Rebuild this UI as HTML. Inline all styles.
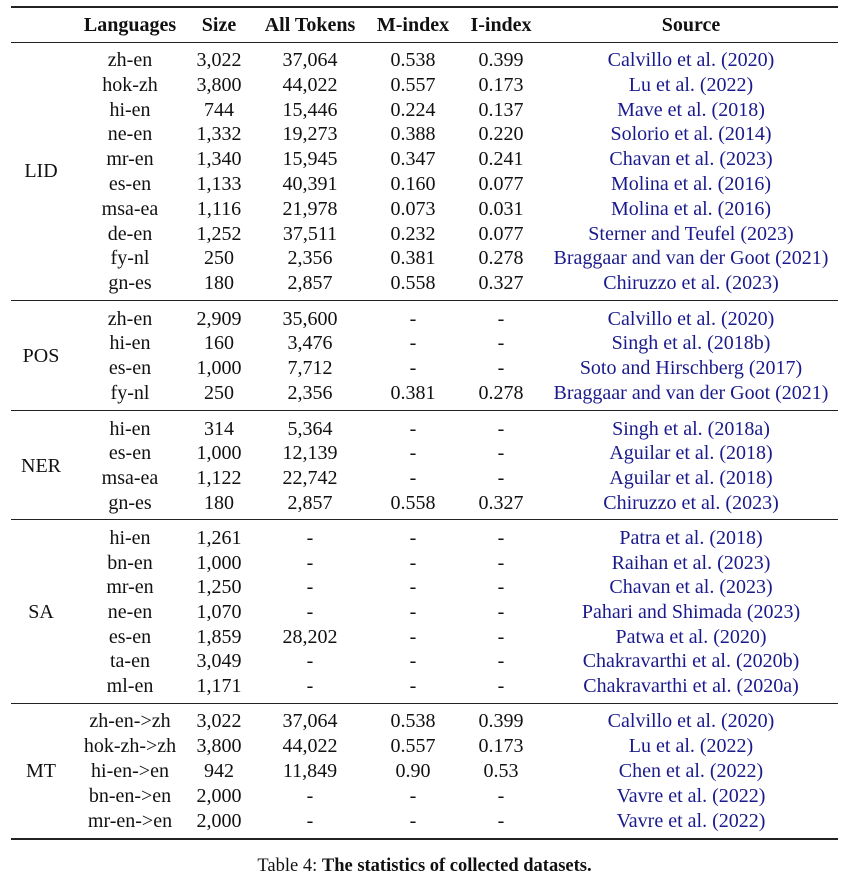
<!DOCTYPE html>
<html><head><meta charset="utf-8"><style>
body{margin:0;width:849px;height:880px;background:#fff;position:relative;font-family:"Liberation Serif",serif;font-size:20px;color:#111;overflow:hidden}
.r{position:absolute;left:0;width:849px;height:22px;line-height:22px}
.r span{position:absolute;text-align:center;white-space:nowrap}
.a{left:80px;width:100px}.b{left:180px;width:78px}.c{left:260px;width:100px}.d{left:363px;width:100px}.e{left:461px;width:80px}.f{left:545px;width:292px;color:#1a1a8c}
.g{left:11px;width:60px}
.h span{font-weight:bold}
.h .f{color:#111}
.ln{position:absolute;left:11px;width:827px;background:#222}
.cap{position:absolute;top:856px;left:0;width:849px;text-align:center;font-size:18.5px}
</style></head><body>
<div class="ln" style="top:6px;height:2px"></div>
<div class="r h" style="top:14px"><span class="a">Languages</span><span class="b">Size</span><span class="c">All Tokens</span><span class="d">M-index</span><span class="e">I-index</span><span class="f">Source</span></div>
<div class="ln" style="top:42px;height:1px"></div>

<div class="r" style="top:49px"><span class="a">zh-en</span><span class="b">3,022</span><span class="c">37,064</span><span class="d">0.538</span><span class="e">0.399</span><span class="f">Calvillo et al. (2020)</span></div>
<div class="r" style="top:74px"><span class="a">hok-zh</span><span class="b">3,800</span><span class="c">44,022</span><span class="d">0.557</span><span class="e">0.173</span><span class="f">Lu et al. (2022)</span></div>
<div class="r" style="top:99px"><span class="a">hi-en</span><span class="b">744</span><span class="c">15,446</span><span class="d">0.224</span><span class="e">0.137</span><span class="f">Mave et al. (2018)</span></div>
<div class="r" style="top:123px"><span class="a">ne-en</span><span class="b">1,332</span><span class="c">19,273</span><span class="d">0.388</span><span class="e">0.220</span><span class="f">Solorio et al. (2014)</span></div>
<div class="r" style="top:148px"><span class="a">mr-en</span><span class="b">1,340</span><span class="c">15,945</span><span class="d">0.347</span><span class="e">0.241</span><span class="f">Chavan et al. (2023)</span></div>
<div class="r" style="top:160px"><span class="g">LID</span></div>
<div class="r" style="top:173px"><span class="a">es-en</span><span class="b">1,133</span><span class="c">40,391</span><span class="d">0.160</span><span class="e">0.077</span><span class="f">Molina et al. (2016)</span></div>
<div class="r" style="top:198px"><span class="a">msa-ea</span><span class="b">1,116</span><span class="c">21,978</span><span class="d">0.073</span><span class="e">0.031</span><span class="f">Molina et al. (2016)</span></div>
<div class="r" style="top:223px"><span class="a">de-en</span><span class="b">1,252</span><span class="c">37,511</span><span class="d">0.232</span><span class="e">0.077</span><span class="f">Sterner and Teufel (2023)</span></div>
<div class="r" style="top:247px"><span class="a">fy-nl</span><span class="b">250</span><span class="c">2,356</span><span class="d">0.381</span><span class="e">0.278</span><span class="f">Braggaar and van der Goot (2021)</span></div>
<div class="r" style="top:272px"><span class="a">gn-es</span><span class="b">180</span><span class="c">2,857</span><span class="d">0.558</span><span class="e">0.327</span><span class="f">Chiruzzo et al. (2023)</span></div>
<div class="ln" style="top:300px;height:1px"></div>

<div class="r" style="top:308px"><span class="a">zh-en</span><span class="b">2,909</span><span class="c">35,600</span><span class="d">-</span><span class="e">-</span><span class="f">Calvillo et al. (2020)</span></div>
<div class="r" style="top:332px"><span class="a">hi-en</span><span class="b">160</span><span class="c">3,476</span><span class="d">-</span><span class="e">-</span><span class="f">Singh et al. (2018b)</span></div>
<div class="r" style="top:345px"><span class="g">POS</span></div>
<div class="r" style="top:357px"><span class="a">es-en</span><span class="b">1,000</span><span class="c">7,712</span><span class="d">-</span><span class="e">-</span><span class="f">Soto and Hirschberg (2017)</span></div>
<div class="r" style="top:382px"><span class="a">fy-nl</span><span class="b">250</span><span class="c">2,356</span><span class="d">0.381</span><span class="e">0.278</span><span class="f">Braggaar and van der Goot (2021)</span></div>
<div class="ln" style="top:410px;height:1px"></div>

<div class="r" style="top:418px"><span class="a">hi-en</span><span class="b">314</span><span class="c">5,364</span><span class="d">-</span><span class="e">-</span><span class="f">Singh et al. (2018a)</span></div>
<div class="r" style="top:442px"><span class="a">es-en</span><span class="b">1,000</span><span class="c">12,139</span><span class="d">-</span><span class="e">-</span><span class="f">Aguilar et al. (2018)</span></div>
<div class="r" style="top:455px"><span class="g">NER</span></div>
<div class="r" style="top:467px"><span class="a">msa-ea</span><span class="b">1,122</span><span class="c">22,742</span><span class="d">-</span><span class="e">-</span><span class="f">Aguilar et al. (2018)</span></div>
<div class="r" style="top:492px"><span class="a">gn-es</span><span class="b">180</span><span class="c">2,857</span><span class="d">0.558</span><span class="e">0.327</span><span class="f">Chiruzzo et al. (2023)</span></div>
<div class="ln" style="top:519px;height:1px"></div>

<div class="r" style="top:527px"><span class="a">hi-en</span><span class="b">1,261</span><span class="c">-</span><span class="d">-</span><span class="e">-</span><span class="f">Patra et al. (2018)</span></div>
<div class="r" style="top:552px"><span class="a">bn-en</span><span class="b">1,000</span><span class="c">-</span><span class="d">-</span><span class="e">-</span><span class="f">Raihan et al. (2023)</span></div>
<div class="r" style="top:576px"><span class="a">mr-en</span><span class="b">1,250</span><span class="c">-</span><span class="d">-</span><span class="e">-</span><span class="f">Chavan et al. (2023)</span></div>
<div class="r" style="top:601px"><span class="a">ne-en</span><span class="b">1,070</span><span class="c">-</span><span class="d">-</span><span class="e">-</span><span class="f">Pahari and Shimada (2023)</span><span class="g">SA</span></div>
<div class="r" style="top:626px"><span class="a">es-en</span><span class="b">1,859</span><span class="c">28,202</span><span class="d">-</span><span class="e">-</span><span class="f">Patwa et al. (2020)</span></div>
<div class="r" style="top:650px"><span class="a">ta-en</span><span class="b">3,049</span><span class="c">-</span><span class="d">-</span><span class="e">-</span><span class="f">Chakravarthi et al. (2020b)</span></div>
<div class="r" style="top:675px"><span class="a">ml-en</span><span class="b">1,171</span><span class="c">-</span><span class="d">-</span><span class="e">-</span><span class="f">Chakravarthi et al. (2020a)</span></div>
<div class="ln" style="top:703px;height:1px"></div>

<div class="r" style="top:710px"><span class="a">zh-en-&gt;zh</span><span class="b">3,022</span><span class="c">37,064</span><span class="d">0.538</span><span class="e">0.399</span><span class="f">Calvillo et al. (2020)</span></div>
<div class="r" style="top:735px"><span class="a">hok-zh-&gt;zh</span><span class="b">3,800</span><span class="c">44,022</span><span class="d">0.557</span><span class="e">0.173</span><span class="f">Lu et al. (2022)</span></div>
<div class="r" style="top:760px"><span class="a">hi-en-&gt;en</span><span class="b">942</span><span class="c">11,849</span><span class="d">0.90</span><span class="e">0.53</span><span class="f">Chen et al. (2022)</span><span class="g">MT</span></div>
<div class="r" style="top:785px"><span class="a">bn-en-&gt;en</span><span class="b">2,000</span><span class="c">-</span><span class="d">-</span><span class="e">-</span><span class="f">Vavre et al. (2022)</span></div>
<div class="r" style="top:810px"><span class="a">mr-en-&gt;en</span><span class="b">2,000</span><span class="c">-</span><span class="d">-</span><span class="e">-</span><span class="f">Vavre et al. (2022)</span></div>
<div class="ln" style="top:838px;height:2px"></div>

<div class="cap">Table 4: <b>The statistics of collected datasets.</b></div>
</body></html>
